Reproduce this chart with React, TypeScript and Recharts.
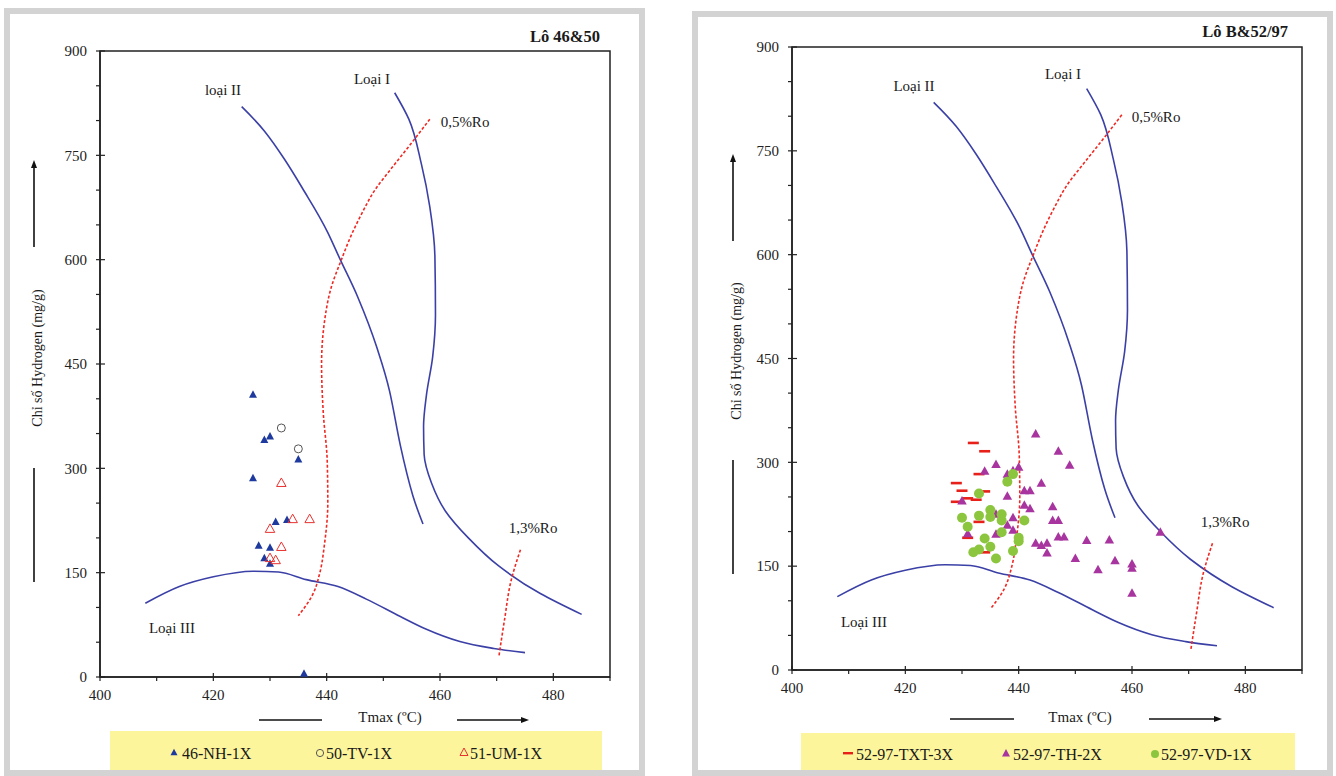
import React from 'react';
import { ComposedChart, Line, Scatter, XAxis, YAxis, ReferenceArea } from 'recharts';

// kerogen type curves, [Tmax, HI] (same template on both plots)
const typeI = [[452, 840], [454.5, 802], [456.7, 738], [458.2, 676], [459.1, 605], [459.2, 520], [458.7, 460], [457.6, 405], [457.1, 360], [457.2, 320], [458.5, 279], [461, 238], [465, 200], [470.3, 160], [477.7, 120], [485, 90]];
const typeII = [[425, 820], [429, 785], [432.5, 745], [435.7, 703], [440.2, 639], [442.4, 600], [445.5, 546], [448.8, 475], [451.1, 411], [453, 333], [455.2, 261], [457, 220]];
const typeIII = [[408, 106], [414, 130], [420, 144], [427, 152], [431.5, 151], [436.4, 140], [442, 130], [447, 112], [453, 87], [457.5, 69], [463.5, 51], [469.5, 41], [475, 35]];
const ro05 = [[458.2, 802], [455, 768], [451.5, 732], [448.5, 700], [446.3, 668], [444.5, 638], [442.6, 600], [440.8, 560], [439.6, 510], [439.1, 450], [439.4, 380], [440.1, 310], [440.2, 250], [439.6, 190], [438.8, 150], [437.5, 118], [435, 88]];
const ro13 = [[474.2, 183], [472.5, 137], [471.4, 83], [470.4, 30]];

// Lô 46&50 samples
const nh46 = [[427, 405], [429, 340], [430, 345], [435, 312], [427, 285], [431, 222], [433, 225], [428, 188], [430, 185], [429, 170], [430, 162], [436, 4]];
const tv50 = [[432, 358], [435, 328]];
const um51 = [[432, 278], [434, 226], [437, 226], [430, 212], [432, 186], [430, 170], [431, 167]];

// Lô B&52/97 samples
const txt3x = [[432, 328], [434, 316], [433, 283], [429, 270], [430, 259], [434, 258], [431, 248], [432.5, 246], [429, 243], [433, 214], [431, 191], [434, 170]];
const th2x = [[443, 340], [447, 315], [449, 295], [436, 296], [440, 292], [434, 286], [438, 282], [439, 287], [444, 269], [441, 258], [442, 258], [438, 250], [430, 243], [441, 237], [442, 232], [446, 235], [446, 215], [447, 215], [439, 219], [436, 224], [438, 208], [439, 201], [436, 195], [431, 196], [447, 191], [448, 191], [452, 186], [456, 187], [443, 182], [444, 179], [445, 182], [445, 168], [450, 160], [457, 157], [454, 144], [460, 152], [460, 146], [460, 110], [465, 198]];
const vd1x = [[439, 283], [438, 272], [433, 255], [435, 231], [435, 221], [437, 225], [437, 216], [433, 223], [430, 220], [441, 216], [431, 207], [437, 199], [434, 190], [440, 191], [440, 186], [435, 178], [433, 174], [432, 170], [439, 172], [436, 161]];

const xTicks = [400, 410, 420, 430, 440, 450, 460, 470, 480, 490];
const xLabels = [400, 420, 440, 460, 480];
const yTicks = [0, 50, 100, 150, 200, 250, 300, 350, 400, 450, 500, 550, 600, 650, 700, 750, 800, 850, 900];
const yLabels = [0, 150, 300, 450, 600, 750, 900];

const FONT = '"Liberation Serif", "Times New Roman", serif';
const BLUE_LINE = '#3b40a6';
const RED_LINE = '#ee2a24';

const pts = (arr: number[][]) => arr.map(([t, hi]) => ({ t, hi }));

const XTick = (props: any) => {
  const { x, y, payload } = props;
  const major = xLabels.includes(payload.value);
  return (
    <g>
      <line x1={x} x2={x} y1={major ? y - 4 : y} y2={y + 4} stroke="#222" strokeWidth={1.2} />
      {major && (
        <text x={x} y={y + 23} textAnchor="middle" fontSize={15} fill="#222" fontFamily={FONT}>
          {payload.value}
        </text>
      )}
    </g>
  );
};

const YTick = (props: any) => {
  const { x, y, payload } = props;
  const major = yLabels.includes(payload.value);
  return (
    <g>
      <line x1={x - 4} x2={major ? x + 5 : x} y1={y} y2={y} stroke="#222" strokeWidth={1.2} />
      {major && (
        <text x={x - 13} y={y} dy="0.35em" textAnchor="end" fontSize={15} fill="#222" fontFamily={FONT}>
          {payload.value}
        </text>
      )}
    </g>
  );
};

const tri = (cx: number, cy: number, w: number, h: number) =>
  `${cx},${cy - (h * 2) / 3} ${cx - w / 2},${cy + h / 3} ${cx + w / 2},${cy + h / 3}`;

const BlueTri = (p: any) => <polygon points={tri(p.cx, p.cy, 8, 7.5)} fill="#1f3a9e" />;
const GreyCircle = (p: any) => <circle cx={p.cx} cy={p.cy} r={4} fill="none" stroke="#555" strokeWidth={1} />;
const RedTri = (p: any) => <polygon points={tri(p.cx, p.cy, 9.5, 8.5)} fill="none" stroke="#e8322f" strokeWidth={1} />;
const RedDash = (p: any) => <rect x={p.cx - 5.5} y={p.cy - 1.3} width={11} height={2.6} fill="#e8201a" />;
const MagTri = (p: any) => <polygon points={tri(p.cx, p.cy, 9.5, 8.5)} fill="#a8359f" />;
const GreenDot = (p: any) => <circle cx={p.cx} cy={p.cy} r={5} fill="#8cc63e" />;

type Series = { data: number[][]; shape: (p: any) => React.ReactElement; name: string };

const Plot = ({ width, margin, series }: { width: number; margin: any; series: Series[] }) => (
  <ComposedChart width={width} height={776} margin={margin}>
    <XAxis
      dataKey="t"
      type="number"
      domain={[400, 490]}
      ticks={xTicks}
      interval={0}
      height={30}
      tickSize={0}
      tickMargin={0}
      tickLine={false}
      axisLine={{ stroke: '#222', strokeWidth: 1.5 }}
      tick={<XTick />}
    />
    <YAxis
      dataKey="hi"
      type="number"
      domain={[0, 900]}
      ticks={yTicks}
      interval={0}
      width={60}
      tickSize={0}
      tickMargin={0}
      tickLine={false}
      axisLine={{ stroke: '#222', strokeWidth: 1.5 }}
      tick={<YTick />}
    />
    <ReferenceArea x1={400} x2={490} y1={0} y2={900} fill="none" stroke="#222" strokeWidth={1.5} />
    <Line data={pts(typeII)} dataKey="hi" type="monotone" stroke={BLUE_LINE} strokeWidth={1.6} dot={false} activeDot={false} isAnimationActive={false} />
    <Line data={pts(typeI)} dataKey="hi" type="monotoneY" stroke={BLUE_LINE} strokeWidth={1.6} dot={false} activeDot={false} isAnimationActive={false} />
    <Line data={pts(typeIII)} dataKey="hi" type="monotone" stroke={BLUE_LINE} strokeWidth={1.6} dot={false} activeDot={false} isAnimationActive={false} />
    <Line data={pts(ro05)} dataKey="hi" type="monotoneY" stroke={RED_LINE} strokeWidth={1.6} strokeDasharray="3 2" dot={false} activeDot={false} isAnimationActive={false} />
    <Line data={pts(ro13)} dataKey="hi" type="monotoneY" stroke={RED_LINE} strokeWidth={1.6} strokeDasharray="3 2" dot={false} activeDot={false} isAnimationActive={false} />
    {series.map((s) => (
      <Scatter key={s.name} name={s.name} data={pts(s.data)} shape={s.shape} isAnimationActive={false} />
    ))}
  </ComposedChart>
);

const txt = (x: number, y: number, s: string, opts: any = {}) => (
  <text x={x} y={y} dy="0.35em" textAnchor={opts.anchor || 'middle'} fontSize={opts.size || 15}
    fontWeight={opts.weight || 'normal'} fill="#1a1a1a" fontFamily={FONT}>{s}</text>
);

const Arrow = ({ x1, y1, x2, y2 }: { x1: number; y1: number; x2: number; y2: number }) => {
  const ang = Math.atan2(y2 - y1, x2 - x1);
  const L = 8, W = 3;
  const bx = x2 - L * Math.cos(ang), by = y2 - L * Math.sin(ang);
  const px = -Math.sin(ang) * W, py = Math.cos(ang) * W;
  return (
    <g>
      <line x1={x1} y1={y1} x2={bx} y2={by} stroke="#111" strokeWidth={1.6} />
      <polygon points={`${x2},${y2} ${bx + px},${by + py} ${bx - px},${by - py}`} fill="#111" />
    </g>
  );
};

const Decor = () => (
  <svg width={1336} height={776} style={{ position: 'absolute', left: 0, top: 0 }}>
    <rect x={110} y={731} width={492} height={41} fill="#fdf59c" />
    <rect x={801} y={733} width={494} height={40} fill="#fdf59c" />
    <rect x={7} y={11} width={635} height={762} fill="none" stroke="#d3d3d3" strokeWidth={6} />
    <rect x={695} y={14} width={635} height={759} fill="none" stroke="#d3d3d3" strokeWidth={6} />
  </svg>
);

const Overlay = () => (
  <svg width={1336} height={776} style={{ position: 'absolute', left: 0, top: 0, pointerEvents: 'none' }}>
    {/* left panel */}
    {txt(600, 36, 'Lô 46&50', { anchor: 'end', size: 16.5, weight: 'bold' })}
    {txt(223, 90, 'loại II')}
    {txt(372, 79, 'Loại I')}
    {txt(465, 122, '0,5%Ro')}
    {txt(533, 528, '1,3%Ro')}
    {txt(172, 628, 'Loại III')}
    <g transform="translate(37,358) rotate(-90)">{txt(0, 0, 'Chỉ số Hydrogen (mg/g)', { size: 14 })}</g>
    <Arrow x1={34} y1={247} x2={34} y2={160} />
    <line x1={34} y1={468} x2={34} y2={582} stroke="#111" strokeWidth={1.6} />
    {txt(390, 717, 'Tmax (ºC)')}
    <line x1={259} y1={720} x2={322} y2={720} stroke="#111" strokeWidth={1.6} />
    <Arrow x1={457} y1={720} x2={529} y2={720} />
    <polygon points={tri(174, 753, 7, 6.5)} fill="#1f3a9e" />
    {txt(182, 753, '46-NH-1X', { anchor: 'start', size: 16 })}
    <circle cx={320} cy={753} r={3.6} fill="none" stroke="#555" strokeWidth={1} />
    {txt(326, 753, '50-TV-1X', { anchor: 'start', size: 16 })}
    <polygon points={tri(464, 753, 8, 7.5)} fill="none" stroke="#e8322f" strokeWidth={1} />
    {txt(470, 753, '51-UM-1X', { anchor: 'start', size: 16 })}

    {/* right panel */}
    {txt(1288, 31, 'Lô B&52/97', { anchor: 'end', size: 16.5, weight: 'bold' })}
    {txt(914, 86, 'Loại II')}
    {txt(1063, 74, 'Loại I')}
    {txt(1156, 117, '0,5%Ro')}
    {txt(1225, 522, '1,3%Ro')}
    {txt(864, 622, 'Loại III')}
    <g transform="translate(736,351) rotate(-90)">{txt(0, 0, 'Chỉ số Hydrogen (mg/g)', { size: 14 })}</g>
    <Arrow x1={733} y1={241} x2={733} y2={154} />
    <line x1={733} y1={460} x2={733} y2={574} stroke="#111" strokeWidth={1.6} />
    {txt(1080, 717, 'Tmax (ºC)')}
    <line x1={950} y1={719} x2={1014} y2={719} stroke="#111" strokeWidth={1.6} />
    <Arrow x1={1149} y1={719} x2={1222} y2={719} />
    <rect x={843} y={752} width={10} height={2.4} fill="#e8201a" />
    {txt(856, 754, '52-97-TXT-3X', { anchor: 'start', size: 16 })}
    <polygon points={tri(1006, 754, 8, 7.5)} fill="#a8359f" />
    {txt(1013, 754, '52-97-TH-2X', { anchor: 'start', size: 16 })}
    <circle cx={1155} cy={754} r={4} fill="#8cc63e" />
    {txt(1161, 754, '52-97-VD-1X', { anchor: 'start', size: 16 })}
  </svg>
);

export default function App() {
  return (
    <div style={{ position: 'absolute', left: 0, top: 0, width: 1336, height: 776, background: '#fff', overflow: 'hidden', fontFamily: FONT }}>
      <Decor />
      <div style={{ position: 'absolute', left: 0, top: 0 }}>
        <Plot
          width={660}
          margin={{ top: 51, right: 50, bottom: 69, left: 40 }}
          series={[
            { name: '46-NH-1X', data: nh46, shape: BlueTri },
            { name: '50-TV-1X', data: tv50, shape: GreyCircle },
            { name: '51-UM-1X', data: um51, shape: RedTri },
          ]}
        />
      </div>
      <div style={{ position: 'absolute', left: 680, top: 0 }}>
        <Plot
          width={656}
          margin={{ top: 47, right: 34, bottom: 76, left: 52 }}
          series={[
            { name: '52-97-TXT-3X', data: txt3x, shape: RedDash },
            { name: '52-97-TH-2X', data: th2x, shape: MagTri },
            { name: '52-97-VD-1X', data: vd1x, shape: GreenDot },
          ]}
        />
      </div>
      <Overlay />
    </div>
  );
}
